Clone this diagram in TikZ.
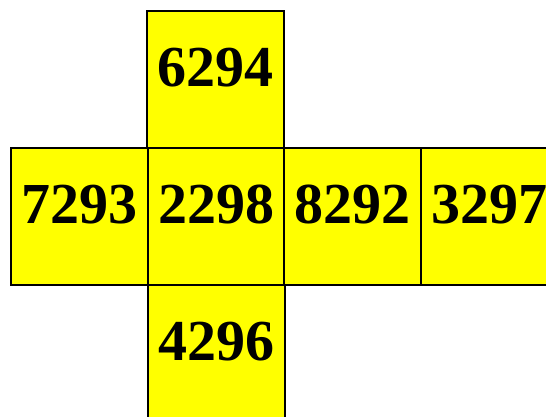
\documentclass[tikz,border=0pt]{standalone}
\usepackage{fontspec}
\setmainfont{Liberation Serif}
\definecolor{facefill}{RGB}{255,255,0}
\begin{document}
\begin{tikzpicture}[x=1pt,y=-1pt,
  face/.style={draw=black, fill=facefill, line width=2pt, rectangle, inner sep=0pt,
    minimum size=137pt, text height=40pt, text depth=26pt,
    font=\fontsize{58}{58}\selectfont\bfseries}]
\useasboundingbox (0,0) rectangle (546,416);
\clip (0,0) rectangle (546,416);
\node[face] (top) at (215.5,79) {6294};
\node[face] (left) at (79.5,216.5) {7293};
\node[face] (mid) at (216,216.5) {2298};
\node[face] (right) at (352.5,216.5) {8292};
\node[face] (far) at (489,216.5) {3297};
\node[face] (bot) at (216,353.5) {4296};
\end{tikzpicture}
\end{document}
